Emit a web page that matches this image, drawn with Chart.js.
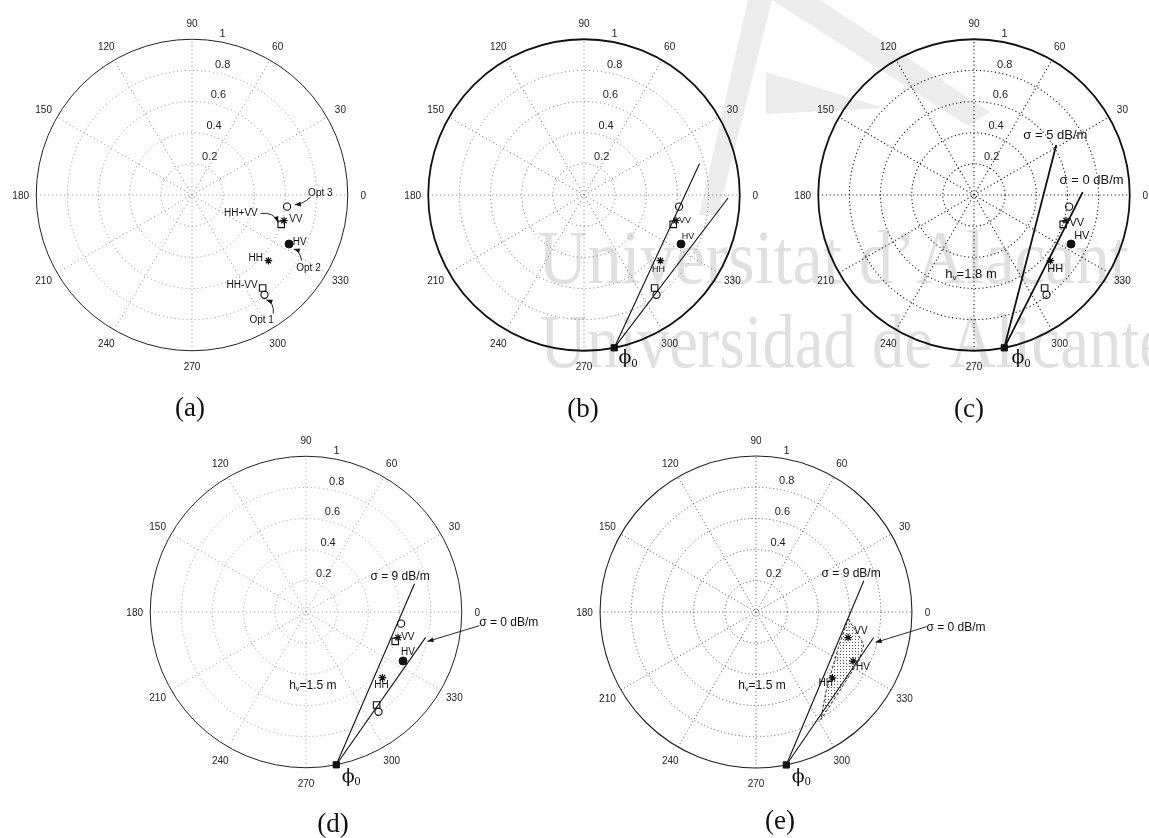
<!DOCTYPE html>
<html>
<head>
<meta charset="utf-8">
<title>Polar phase diagrams</title>
<script src="https://cdn.jsdelivr.net/npm/chart.js@4.4.1/dist/chart.umd.min.js"></script>
<style>
  html, body { margin: 0; padding: 0; background: #fff; }
  #figure { position: relative; width: 1149px; height: 838px; overflow: hidden; background: #fff; }
  #backdrop { position: absolute; left: 0; top: 0; }
  .panel { position: absolute; }
  .cap { position: absolute; font-family: "Liberation Serif", "Times New Roman", serif; font-size: 27px;
         color: #111; transform: translate(-50%, -50%); line-height: 1; white-space: nowrap; }
</style>
</head>
<body>
<div id="figure">
  <canvas id="backdrop" width="1149" height="838"></canvas>
  <canvas class="panel" id="pa" width="560" height="560"></canvas>
  <canvas class="panel" id="pb" width="560" height="560"></canvas>
  <canvas class="panel" id="pc" width="560" height="560"></canvas>
  <canvas class="panel" id="pd" width="560" height="560"></canvas>
  <canvas class="panel" id="pe" width="560" height="560"></canvas>
  <div class="cap" style="left:190px; top:407px;">(a)</div>
  <div class="cap" style="left:583px; top:408px;">(b)</div>
  <div class="cap" style="left:969px; top:408px;">(c)</div>
  <div class="cap" style="left:333px; top:823px;">(d)</div>
  <div class="cap" style="left:780px; top:820px;">(e)</div>
</div>
<script>
// ---- measured scattering points (angle in degrees, normalised magnitude) ----
const pointNames  = ['Opt 3', 'VV', 'HH+VV', 'HV', 'HH', 'HH-VV', 'Opt 1'];
const pointAngles = [353.0, 344.5, 341.8, 333.2, 319.3, 307.2, 306.0];
const pointRadii  = [0.615, 0.613, 0.603, 0.698, 0.647, 0.750, 0.792];

// ground phase phi0
const phi0Angle  = 281.2;
const phi0Radius = 1.0;

// line ends from phi0 (panel b: bounds, c-e: extinction sigma lines)
const panelBEndAngles = [15.2, 358.8];
const panelBEndRadii  = [0.769, 0.925];
const panelCEndAngles = [31.3, 1.5];   // sigma = 5 dB/m, sigma = 0 dB/m
const panelCEndRadii  = [0.618, 0.698];
const panelDEndAngles = [14.6, 348.0]; // sigma = 9 dB/m, sigma = 0 dB/m
const panelDEndRadii  = [0.720, 0.785];
const panelEEndAngles = [16.2, 347.8];
const panelEEndRadii  = [0.720, 0.772];

// shaded region of panel e
const shadeAngles = [355.7, 343.3, 334.5, 301.0, 310.5, 319.9, 336.8, 355.7];
const shadeRadii  = [0.593, 0.722, 0.731, 0.807, 0.687, 0.625, 0.575, 0.593];

// axis ticks
const radialTicks = [0.2, 0.4, 0.6, 0.8, 1];
const angleTicks  = [0, 30, 60, 90, 120, 150, 180, 210, 240, 270, 300, 330];

// ---- helpers ----
const DEG = Math.PI / 180;
function polar(angle, radius) {
  return { x: radius * Math.cos(angle * DEG), y: radius * Math.sin(angle * DEG) };
}
const phi0 = polar(phi0Angle, phi0Radius);

const SANS = '"Liberation Sans", Arial, Helvetica, sans-serif';
const SERIF = '"Liberation Serif", "Times New Roman", serif';

const markerLook = {
  ring: { pointStyle: 'circle', pointRadius: 3.6, pointBorderWidth: 1.1, pointBackgroundColor: 'rgba(255,255,255,0)', pointBorderColor: '#111' },
  star: { pointStyle: 'star',   pointRadius: 3.8, pointBorderWidth: 1.2, pointBackgroundColor: '#111', pointBorderColor: '#111' },
  box:  { pointStyle: 'rect',   pointRadius: 4.6, pointBorderWidth: 1.1, pointBackgroundColor: 'rgba(255,255,255,0)', pointBorderColor: '#111' },
  dot:  { pointStyle: 'circle', pointRadius: 4.0, pointBorderWidth: 1,   pointBackgroundColor: '#111', pointBorderColor: '#111' }
};
const markerOf = { 'Opt 3': 'ring', 'Opt 1': 'ring', 'VV': 'star', 'HH': 'star', 'HH+VV': 'box', 'HH-VV': 'box', 'HV': 'dot' };

function pointSets(names, lookOverride) {
  return names.map(n => {
    const i = pointNames.indexOf(n);
    const look = markerLook[lookOverride || markerOf[n]];
    return Object.assign({ label: n, data: [polar(pointAngles[i], pointRadii[i])], showLine: false }, look);
  });
}
function phiSet() {
  return { label: 'phi0', data: [phi0], showLine: false, pointStyle: 'rect', pointRadius: 4.4,
           pointBackgroundColor: '#111', pointBorderColor: '#111', pointBorderWidth: 1 };
}
function lineSets(angles, radii, width) {
  return angles.map((a, k) => ({
    label: 'line' + k, data: [phi0, polar(a, radii[k])], showLine: true, borderColor: '#111',
    borderWidth: width, pointRadius: 0, fill: false, tension: 0
  }));
}

// stipple pattern for the shaded area
function stipple() {
  const c = document.createElement('canvas');
  c.width = 3; c.height = 3;
  const g = c.getContext('2d');
  g.fillStyle = '#555';
  g.fillRect(1, 1, 1, 1);
  return g.createPattern(c, 'repeat');
}

// ---- polar frame + annotations plugin ----
function arrowHead(ctx, x, y, ang) {
  const len = 6, wid = 2.4;
  const c = Math.cos(ang), s = Math.sin(ang);
  ctx.beginPath();
  ctx.moveTo(x, y);
  ctx.lineTo(x - len * c + wid * s, y - len * s - wid * c);
  ctx.lineTo(x - len * c - wid * s, y - len * s + wid * c);
  ctx.closePath();
  ctx.fill();
}

const polarFrame = {
  id: 'polarFrame',
  beforeDatasetsDraw(chart, args, o) {
    const ctx = chart.ctx, X = chart.scales.x, Y = chart.scales.y;
    const cx = X.getPixelForValue(0), cy = Y.getPixelForValue(0);
    const R = X.getPixelForValue(1) - cx;
    ctx.save();
    // dotted rings and spokes
    ctx.strokeStyle = o.gridColor;
    ctx.lineWidth = o.gridWidth;
    ctx.setLineDash(o.dash);
    radialTicks.slice(0, -1).forEach(r => {
      ctx.beginPath(); ctx.arc(cx, cy, r * R, 0, 2 * Math.PI); ctx.stroke();
    });
    for (let a = 0; a < 180; a += 30) {
      const c = Math.cos(a * DEG), s = Math.sin(a * DEG);
      ctx.beginPath();
      ctx.moveTo(cx - R * c, cy + R * s);
      ctx.lineTo(cx + R * c, cy - R * s);
      ctx.stroke();
    }
    // outer rim
    ctx.setLineDash([]);
    ctx.strokeStyle = o.rimColor;
    ctx.lineWidth = o.rimWidth;
    ctx.beginPath(); ctx.arc(cx, cy, R, 0, 2 * Math.PI); ctx.stroke();
    // angle labels
    ctx.fillStyle = '#222';
    ctx.font = '10px ' + SANS;
    ctx.textAlign = 'center';
    ctx.textBaseline = 'middle';
    angleTicks.forEach(a => {
      const rr = R * 1.1;
      ctx.fillText(String(a), cx + rr * Math.cos(a * DEG), cy - rr * Math.sin(a * DEG) + 1);
    });
    // radial labels along the 82 degree ray
    ctx.font = '11px ' + SANS;
    ctx.textAlign = 'left';
    ctx.textBaseline = 'bottom';
    radialTicks.forEach(r => {
      const rr = R * (r + 0.01);
      ctx.fillText(String(r), cx + rr * Math.cos(82 * DEG) + 5.5, cy - rr * Math.sin(82 * DEG));
    });
    ctx.restore();
  },
  afterDatasetsDraw(chart, args, o) {
    const ctx = chart.ctx, X = chart.scales.x, Y = chart.scales.y;
    const P = (u, v) => [X.getPixelForValue(u), Y.getPixelForValue(v)];
    ctx.save();
    ctx.fillStyle = '#111';
    ctx.strokeStyle = '#111';
    ctx.textBaseline = 'middle';
    (o.texts || []).forEach(t => {
      const [x, y] = P(t.at[0], t.at[1]);
      ctx.font = t.size + 'px ' + SANS;
      if (t.sub) {
        // main letter followed by a subscript, then the remainder
        const w1 = ctx.measureText(t.text).width;
        ctx.font = (t.size * 0.62) + 'px ' + SANS;
        const w2 = ctx.measureText(t.sub).width;
        ctx.font = t.size + 'px ' + SANS;
        const w3 = ctx.measureText(t.rest).width;
        let x0 = x - (w1 + w2 + w3) / 2;
        ctx.textAlign = 'left';
        ctx.fillText(t.text, x0, y);
        ctx.font = (t.size * 0.62) + 'px ' + SANS;
        ctx.fillText(t.sub, x0 + w1, y + t.size * 0.28);
        ctx.font = t.size + 'px ' + SANS;
        ctx.fillText(t.rest, x0 + w1 + w2, y);
      } else {
        ctx.textAlign = 'center';
        ctx.fillText(t.text, x, y);
      }
    });
    if (o.phiLabel) {
      const [x, y] = P(o.phiLabel[0], o.phiLabel[1]);
      ctx.textAlign = 'left';
      ctx.font = '19px "DejaVu Serif", ' + SERIF;
      const w = ctx.measureText('\u03D5').width;
      ctx.fillText('\u03D5', x - w / 2 - 4, y);
      ctx.font = '12px ' + SERIF;
      ctx.fillText('0', x + w / 2 - 4, y + 5);
    }
    ctx.lineWidth = 0.9;
    (o.arrows || []).forEach(a => {
      const pts = a.map(q => P(q[0], q[1]));
      ctx.beginPath();
      ctx.moveTo(pts[0][0], pts[0][1]);
      if (pts.length === 3) ctx.quadraticCurveTo(pts[1][0], pts[1][1], pts[2][0], pts[2][1]);
      else ctx.lineTo(pts[1][0], pts[1][1]);
      ctx.stroke();
      const e = pts[pts.length - 1], b = pts[pts.length - 2];
      arrowHead(ctx, e[0], e[1], Math.atan2(e[1] - b[1], e[0] - b[0]));
    });
    ctx.restore();
  }
};

// ---- panel layout ----
const RADIUS_PX = 159;
const CANVAS = 560;
const HALF = CANVAS / 2 / RADIUS_PX;

function makePanel(id, cx, cy, datasets, frame) {
  const el = document.getElementById(id);
  el.style.left = (cx - CANVAS / 2) + 'px';
  el.style.top = (cy - CANVAS / 2) + 'px';
  return new Chart(el, {
    type: 'scatter',
    data: { datasets },
    options: {
      responsive: false,
      animation: false,
      devicePixelRatio: 1,
      layout: { padding: 0 },
      events: [],
      scales: {
        x: { type: 'linear', min: -HALF, max: HALF, display: false },
        y: { type: 'linear', min: -HALF, max: HALF, display: false }
      },
      plugins: { legend: { display: false }, tooltip: { enabled: false }, polarFrame: frame }
    },
    plugins: [polarFrame]
  });
}

const allNames = ['Opt 3', 'VV', 'HH+VV', 'HV', 'HH', 'HH-VV', 'Opt 1'];
const lightGrid = { gridColor: '#8c8c8c', gridWidth: 1, dash: [1, 3], rimColor: '#222', rimWidth: 1 };

// (a) candidate optima and polarisation channels
makePanel('pa', 192, 195, pointSets(allNames), Object.assign({}, lightGrid, {
  texts: [
    { text: 'Opt 3', at: [0.824, 0.013], size: 10 },
    { text: 'HH+VV', at: [0.314, -0.119], size: 10 },
    { text: 'VV', at: [0.667, -0.157], size: 10 },
    { text: 'HV', at: [0.692, -0.302], size: 10 },
    { text: 'Opt 2', at: [0.748, -0.472], size: 10 },
    { text: 'HH', at: [0.409, -0.409], size: 10 },
    { text: 'HH-VV', at: [0.321, -0.579], size: 10 },
    { text: 'Opt 1', at: [0.447, -0.805], size: 10 }
  ],
  arrows: [
    [[0.761, -0.013], [0.717, -0.057], [0.660, -0.063]],
    [[0.440, -0.119], [0.528, -0.107], [0.553, -0.176]],
    [[0.704, -0.421], [0.692, -0.358], [0.654, -0.346]],
    [[0.522, -0.761], [0.528, -0.692], [0.478, -0.673]]
  ]
}));

// (b) lines from the ground phase through the measurements
makePanel('pb', 584, 195,
  [phiSet()].concat(pointSets(allNames), lineSets(panelBEndAngles, panelBEndRadii, 1.1)),
  Object.assign({}, lightGrid, {
    gridColor: '#707070', rimWidth: 1.8, rimColor: '#111',
    texts: [
      { text: 'VV', at: [0.648, -0.164], size: 9 },
      { text: 'HV', at: [0.667, -0.264], size: 9 },
      { text: 'HH', at: [0.478, -0.478], size: 9 }
    ],
    phiLabel: [0.289, -1.05]
  }));

// (c) sigma = 5 and 0 dB/m, hv = 1.8 m
makePanel('pc', 974, 195,
  [phiSet()].concat(pointSets(allNames), lineSets(panelCEndAngles, panelCEndRadii, 1.8)),
  { gridColor: '#222', gridWidth: 1.1, dash: [1.2, 2.6], rimColor: '#111', rimWidth: 1.8,
    texts: [
      { text: '\u03C3 = 5 dB/m', at: [0.522, 0.384], size: 13 },
      { text: '\u03C3 = 0 dB/m', at: [0.755, 0.094], size: 13 },
      { text: 'h', sub: 'v', rest: '=1.8 m', at: [-0.019, -0.509], size: 13 },
      { text: 'VV', at: [0.660, -0.182], size: 11 },
      { text: 'HV', at: [0.692, -0.264], size: 11 },
      { text: 'HH', at: [0.522, -0.472], size: 11 }
    ],
    phiLabel: [0.308, -1.05]
  });

// (d) sigma = 9 and 0 dB/m, hv = 1.5 m
makePanel('pd', 306, 612,
  [phiSet()].concat(pointSets(allNames), lineSets(panelDEndAngles, panelDEndRadii, 1.1)),
  Object.assign({}, lightGrid, {
    gridColor: '#9a9a9a',
    texts: [
      { text: '\u03C3 = 9 dB/m', at: [0.604, 0.226], size: 12 },
      { text: '\u03C3 = 0 dB/m', at: [1.302, -0.069], size: 12 },
      { text: 'h', sub: 'v', rest: '=1.5 m', at: [0.044, -0.472], size: 12 },
      { text: 'VV', at: [0.654, -0.164], size: 10 },
      { text: 'HV', at: [0.654, -0.258], size: 10 },
      { text: 'HH', at: [0.484, -0.472], size: 10 }
    ],
    arrows: [[[1.113, -0.088], [0.780, -0.189]]],
    phiLabel: [0.296, -1.057]
  }));

// (e) feasible region between the two sigma lines
const shadeSet = {
  label: 'region',
  data: shadeAngles.map((a, k) => polar(a, shadeRadii[k])),
  showLine: true, fill: 'shape', backgroundColor: stipple(),
  borderColor: '#333', borderWidth: 1, borderDash: [3, 2], pointRadius: 0, tension: 0
};
makePanel('pe', 756, 612,
  [phiSet()].concat(pointSets(['VV', 'HV', 'HH'], 'star'), lineSets(panelEEndAngles, panelEEndRadii, 1.1), [shadeSet]),
  { gridColor: '#555', gridWidth: 1, dash: [1, 2.6], rimColor: '#222', rimWidth: 1.1,
    texts: [
      { text: '\u03C3 = 9 dB/m', at: [0.610, 0.245], size: 12 },
      { text: '\u03C3 = 0 dB/m', at: [1.283, -0.101], size: 12 },
      { text: 'h', sub: 'v', rest: '=1.5 m', at: [0.038, -0.472], size: 12 },
      { text: 'VV', at: [0.673, -0.126], size: 10 },
      { text: 'HV', at: [0.686, -0.352], size: 10 },
      { text: 'HH', at: [0.447, -0.459], size: 10 }
    ],
    arrows: [[[1.094, -0.094], [0.767, -0.195]]],
    phiLabel: [0.296, -1.057]
  });

// ---- university watermark behind the panels ----
(function backdrop() {
  const ctx = document.getElementById('backdrop').getContext('2d');
  // pale logo strokes
  ctx.fillStyle = '#ececec';
  const shapes = [
    [[748, 0], [772, 0], [718, 215], [699, 215]],
    [[772, 0], [820, 0], [990, 112], [968, 126]],
    [[766, 72], [884, 108], [766, 114]]
  ];
  shapes.forEach(s => {
    ctx.beginPath();
    ctx.moveTo(s[0][0], s[0][1]);
    s.slice(1).forEach(p => ctx.lineTo(p[0], p[1]));
    ctx.closePath();
    ctx.fill();
  });
  // lettering
  ctx.fillStyle = '#e0e0e0';
  ctx.font = '76px ' + SERIF;
  ctx.textBaseline = 'alphabetic';
  ctx.save();
  ctx.translate(538, 283);
  ctx.scale(0.9, 1);
  ctx.fillText('Universitat d\u2019Alacant', 0, 0);
  ctx.restore();
  ctx.save();
  ctx.translate(540, 367);
  ctx.scale(0.85, 1);
  ctx.fillText('Universidad de Alicante', 0, 0);
  ctx.restore();
})();
</script>
</body>
</html>
